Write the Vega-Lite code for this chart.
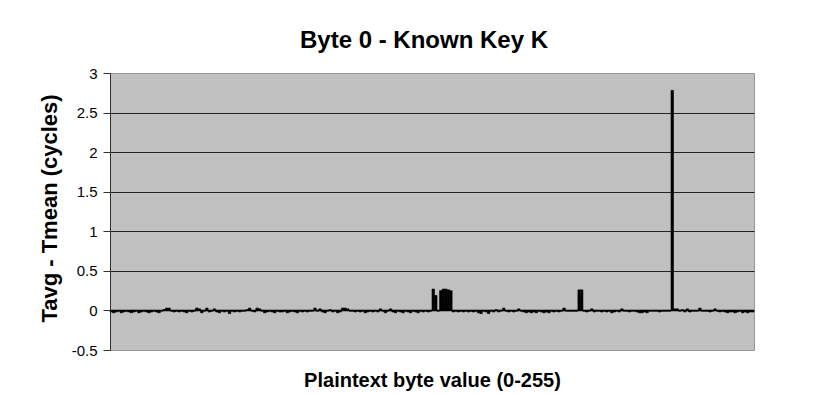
{
  "$schema": "https://vega.github.io/schema/vega-lite/v6.json",
  "autosize": "none",
  "width": 644,
  "height": 277,
  "padding": {"left": 110, "top": 73, "right": 71, "bottom": 45},
  "background": "white",
  "title": {
    "text": "Byte 0 - Known Key K",
    "font": "Liberation Sans",
    "fontSize": 24,
    "fontWeight": "bold",
    "color": "black",
    "anchor": "middle",
    "frame": "group",
    "offset": 13,
    "dx": -8
  },
  "data": {
    "values": [
      {"b":0,"v":-0.02},{"b":1,"v":-0.03},{"b":2,"v":-0.02},{"b":3,"v":-0.01},{"b":4,"v":-0.03},{"b":5,"v":-0.02},{"b":6,"v":-0.01},{"b":7,"v":-0.02},
      {"b":8,"v":-0.03},{"b":9,"v":-0.02},{"b":10,"v":-0.01},{"b":11,"v":-0.03},{"b":12,"v":-0.02},{"b":13,"v":-0.01},{"b":14,"v":-0.02},{"b":15,"v":-0.03},
      {"b":16,"v":-0.02},{"b":17,"v":-0.01},{"b":18,"v":-0.02},{"b":19,"v":-0.03},{"b":20,"v":-0.01},{"b":21,"v":0.01},{"b":22,"v":0.03},{"b":23,"v":0.03},
      {"b":24,"v":-0.01},{"b":25,"v":-0.02},{"b":26,"v":-0.01},{"b":27,"v":-0.02},{"b":28,"v":-0.01},{"b":29,"v":-0.02},{"b":30,"v":-0.03},{"b":31,"v":-0.01},
      {"b":32,"v":-0.02},{"b":33,"v":-0.01},{"b":34,"v":0.03},{"b":35,"v":0.02},{"b":36,"v":-0.03},{"b":37,"v":-0.01},{"b":38,"v":0.03},{"b":39,"v":-0.02},
      {"b":40,"v":-0.01},{"b":41,"v":0.02},{"b":42,"v":-0.02},{"b":43,"v":-0.03},{"b":44,"v":-0.01},{"b":45,"v":-0.02},{"b":46,"v":-0.01},{"b":47,"v":-0.04},
      {"b":48,"v":-0.01},{"b":49,"v":-0.02},{"b":50,"v":-0.01},{"b":51,"v":-0.02},{"b":52,"v":-0.01},{"b":53,"v":-0.01},{"b":54,"v":0.01},{"b":55,"v":0.03},
      {"b":56,"v":-0.01},{"b":57,"v":-0.02},{"b":58,"v":0.03},{"b":59,"v":0.02},{"b":60,"v":-0.01},{"b":61,"v":-0.03},{"b":62,"v":-0.02},{"b":63,"v":-0.01},
      {"b":64,"v":-0.02},{"b":65,"v":-0.03},{"b":66,"v":-0.01},{"b":67,"v":-0.02},{"b":68,"v":-0.02},{"b":69,"v":-0.01},{"b":70,"v":-0.03},{"b":71,"v":-0.02},
      {"b":72,"v":-0.01},{"b":73,"v":-0.02},{"b":74,"v":-0.03},{"b":75,"v":-0.01},{"b":76,"v":-0.02},{"b":77,"v":-0.01},{"b":78,"v":-0.02},{"b":79,"v":-0.01},
      {"b":80,"v":-0.01},{"b":81,"v":0.03},{"b":82,"v":-0.01},{"b":83,"v":0.02},{"b":84,"v":-0.02},{"b":85,"v":-0.03},{"b":86,"v":-0.01},{"b":87,"v":0.01},
      {"b":88,"v":-0.02},{"b":89,"v":-0.01},{"b":90,"v":-0.03},{"b":91,"v":-0.02},{"b":92,"v":0.03},{"b":93,"v":0.03},{"b":94,"v":0.02},{"b":95,"v":-0.01},
      {"b":96,"v":-0.01},{"b":97,"v":-0.02},{"b":98,"v":-0.01},{"b":99,"v":-0.02},{"b":100,"v":-0.01},{"b":101,"v":-0.03},{"b":102,"v":-0.02},{"b":103,"v":-0.01},
      {"b":104,"v":-0.02},{"b":105,"v":-0.01},{"b":106,"v":-0.02},{"b":107,"v":0.02},{"b":108,"v":-0.01},{"b":109,"v":-0.03},{"b":110,"v":-0.01},{"b":111,"v":0.02},
      {"b":112,"v":-0.02},{"b":113,"v":-0.03},{"b":114,"v":-0.01},{"b":115,"v":-0.02},{"b":116,"v":-0.03},{"b":117,"v":-0.01},{"b":118,"v":-0.02},{"b":119,"v":-0.03},
      {"b":120,"v":-0.01},{"b":121,"v":-0.02},{"b":122,"v":-0.03},{"b":123,"v":-0.01},{"b":124,"v":-0.02},{"b":125,"v":-0.01},{"b":126,"v":-0.02},{"b":127,"v":-0.01},
      {"b":128,"v":0.27},{"b":129,"v":0.19},{"b":130,"v":-0.01},{"b":131,"v":0.25},{"b":132,"v":0.27},{"b":133,"v":0.27},{"b":134,"v":0.26},{"b":135,"v":0.25},
      {"b":136,"v":-0.02},{"b":137,"v":-0.01},{"b":138,"v":-0.02},{"b":139,"v":-0.01},{"b":140,"v":-0.02},{"b":141,"v":-0.01},{"b":142,"v":-0.02},{"b":143,"v":-0.01},
      {"b":144,"v":-0.02},{"b":145,"v":-0.01},{"b":146,"v":-0.03},{"b":147,"v":-0.04},{"b":148,"v":-0.01},{"b":149,"v":-0.02},{"b":150,"v":-0.04},{"b":151,"v":-0.01},
      {"b":152,"v":-0.02},{"b":153,"v":0.01},{"b":154,"v":-0.02},{"b":155,"v":-0.01},{"b":156,"v":0.03},{"b":157,"v":-0.01},{"b":158,"v":-0.02},{"b":159,"v":-0.01},
      {"b":160,"v":-0.02},{"b":161,"v":-0.01},{"b":162,"v":0.02},{"b":163,"v":-0.01},{"b":164,"v":-0.02},{"b":165,"v":-0.03},{"b":166,"v":-0.02},{"b":167,"v":-0.03},
      {"b":168,"v":-0.02},{"b":169,"v":-0.03},{"b":170,"v":-0.01},{"b":171,"v":-0.02},{"b":172,"v":-0.03},{"b":173,"v":-0.02},{"b":174,"v":-0.03},{"b":175,"v":-0.01},
      {"b":176,"v":-0.02},{"b":177,"v":-0.01},{"b":178,"v":-0.02},{"b":179,"v":-0.01},{"b":180,"v":0.03},{"b":181,"v":-0.01},{"b":182,"v":-0.01},{"b":183,"v":-0.01},
      {"b":184,"v":-0.01},{"b":185,"v":-0.01},{"b":186,"v":0.26},{"b":187,"v":0.26},{"b":188,"v":-0.01},{"b":189,"v":-0.02},{"b":190,"v":-0.01},{"b":191,"v":0.02},
      {"b":192,"v":-0.02},{"b":193,"v":-0.01},{"b":194,"v":-0.01},{"b":195,"v":-0.02},{"b":196,"v":-0.01},{"b":197,"v":-0.02},{"b":198,"v":-0.01},{"b":199,"v":-0.03},
      {"b":200,"v":-0.02},{"b":201,"v":-0.01},{"b":202,"v":-0.02},{"b":203,"v":0.02},{"b":204,"v":-0.01},{"b":205,"v":-0.01},{"b":206,"v":-0.02},{"b":207,"v":-0.01},
      {"b":208,"v":-0.01},{"b":209,"v":-0.02},{"b":210,"v":-0.03},{"b":211,"v":-0.03},{"b":212,"v":-0.02},{"b":213,"v":-0.03},{"b":214,"v":-0.01},{"b":215,"v":-0.01},
      {"b":216,"v":-0.01},{"b":217,"v":-0.01},{"b":218,"v":-0.02},{"b":219,"v":-0.01},{"b":220,"v":-0.01},{"b":221,"v":-0.01},{"b":222,"v":-0.01},{"b":223,"v":2.78},
      {"b":224,"v":0.02},{"b":225,"v":0.02},{"b":226,"v":-0.01},{"b":227,"v":0.01},{"b":228,"v":-0.02},{"b":229,"v":0.02},{"b":230,"v":-0.02},{"b":231,"v":-0.01},
      {"b":232,"v":-0.01},{"b":233,"v":-0.01},{"b":234,"v":0.03},{"b":235,"v":-0.01},{"b":236,"v":-0.01},{"b":237,"v":-0.01},{"b":238,"v":-0.02},{"b":239,"v":-0.01},
      {"b":240,"v":0.02},{"b":241,"v":-0.01},{"b":242,"v":-0.02},{"b":243,"v":-0.01},{"b":244,"v":-0.02},{"b":245,"v":-0.03},{"b":246,"v":-0.02},{"b":247,"v":-0.02},
      {"b":248,"v":-0.03},{"b":249,"v":-0.02},{"b":250,"v":-0.01},{"b":251,"v":-0.03},{"b":252,"v":-0.02},{"b":253,"v":-0.03},{"b":254,"v":-0.02},{"b":255,"v":-0.02}
    ]
  },
  "layer": [
    {
      "mark": {"type": "bar", "color": "black", "stroke": "black", "strokeWidth": 0.6},
      "encoding": {
        "x": {
          "field": "b",
          "type": "ordinal",
          "scale": {"paddingInner": 0, "paddingOuter": 0},
          "axis": {
            "labels": false,
            "ticks": false,
            "domain": false,
            "grid": false,
            "title": "Plaintext byte value (0-255)",
            "titleFont": "Liberation Sans",
            "titleFontSize": 20,
            "titleFontWeight": "bold",
            "titleColor": "black",
            "titleY": 30,
            "titleBaseline": "middle"
          }
        },
        "y": {
          "field": "v",
          "type": "quantitative",
          "scale": {"domain": [-0.5, 3], "nice": false, "zero": false},
          "axis": {
            "values": [-0.5, 0, 0.5, 1, 1.5, 2, 2.5, 3],
            "tickCount": 12,
            "labelExpr": "'' + datum.value",
            "labelOverlap": false,
            "labelFont": "Liberation Sans",
            "labelFontSize": 15,
            "labelColor": "black",
            "labelPadding": 6,
            "tickSize": 7,
            "tickColor": "#333333",
            "domainColor": "#333333",
            "grid": true,
            "gridColor": {"condition": {"test": "datum.value >= 3 || datum.value <= -0.5", "value": "#999999"}, "value": "#222222"},
            "gridOpacity": 1,
            "title": "Tavg - Tmean (cycles)",
            "titleFont": "Liberation Sans",
            "titleFontSize": 22,
            "titleFontWeight": "bold",
            "titleColor": "black",
            "titleX": -61,
            "titleY": 135,
            "titleAngle": 270,
            "titleAlign": "center",
            "titleBaseline": "middle"
          }
        }
      }
    },
    {
      "data": {"values": [{"level": 0}]},
      "mark": {"type": "rule", "color": "black", "strokeWidth": 1.5},
      "encoding": {
        "y": {"field": "level", "type": "quantitative"}
      }
    }
  ],
  "config": {
    "view": {"fill": "#c0c0c0", "stroke": "#999999"}
  }
}
